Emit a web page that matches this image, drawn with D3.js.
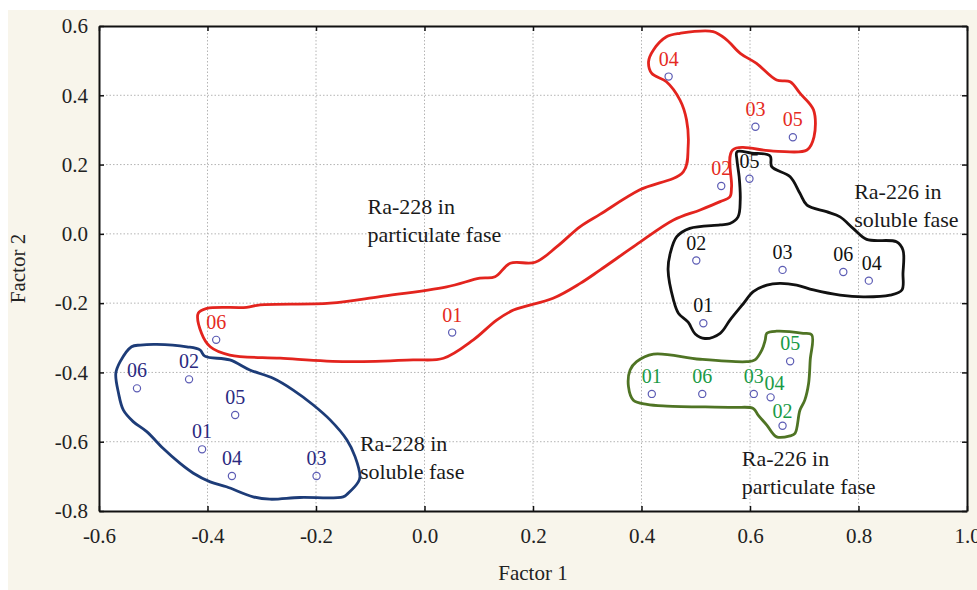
<!DOCTYPE html>
<html>
<head>
<meta charset="utf-8">
<script src="https://cdn.jsdelivr.net/npm/d3@7"></script>
<style>
  body { margin: 0; background: #fff; }
  text { font-family: "Liberation Serif", "Times New Roman", serif; }
</style>
</head>
<body>
<div id="chart"></div>
<script>
// ---------------------------------------------------- DATA ---------------------------------------------------- //
const xTicks = [-0.6, -0.4, -0.2, 0.0, 0.2, 0.4, 0.6, 0.8, 1.0];
const yTicks = [0.6, 0.4, 0.2, 0.0, -0.2, -0.4, -0.6, -0.8];

const sampleLabels = ["01", "02", "03", "04", "05", "06"];

// Ra-228 in soluble fase (blue)
const ra228SolF1 = [-0.410, -0.434, -0.199, -0.355, -0.349, -0.530];
const ra228SolF2 = [-0.622, -0.420, -0.699, -0.699, -0.523, -0.446];
// Ra-228 in particulate fase (red)
const ra228PartF1 = [0.051, 0.547, 0.610, 0.450, 0.679, -0.384];
const ra228PartF2 = [-0.285, 0.138, 0.309, 0.454, 0.279, -0.306];
// Ra-226 in soluble fase (black)
const ra226SolF1 = [0.514, 0.501, 0.660, 0.819, 0.599, 0.772];
const ra226SolF2 = [-0.258, -0.077, -0.104, -0.135, 0.159, -0.110];
// Ra-226 in particulate fase (green)
const ra226PartF1 = [0.419, 0.660, 0.607, 0.638, 0.674, 0.512];
const ra226PartF2 = [-0.462, -0.554, -0.462, -0.472, -0.368, -0.462];

// hand drawn outlines round each group, in factor units
const ra228SolOutline = [[-0.540,-0.326],[-0.524,-0.321],[-0.494,-0.319],[-0.438,-0.326],[-0.414,-0.335],[-0.405,-0.353],
  [-0.359,-0.364],[-0.322,-0.393],[-0.279,-0.417],[-0.242,-0.451],[-0.205,-0.494],[-0.174,-0.537],[-0.143,-0.595],
  [-0.128,-0.643],[-0.119,-0.701],[-0.122,-0.716],[-0.141,-0.749],[-0.150,-0.759],[-0.230,-0.761],[-0.285,-0.766],
  [-0.316,-0.759],[-0.365,-0.730],[-0.395,-0.716],[-0.426,-0.691],[-0.451,-0.662],[-0.482,-0.619],[-0.512,-0.571],
  [-0.537,-0.542],[-0.555,-0.509],[-0.564,-0.460],[-0.569,-0.403],[-0.561,-0.369]];
const ra228PartOutline = [[-0.417,-0.229],[-0.401,-0.215],[-0.328,-0.212],[-0.303,-0.205],[-0.174,-0.200],[-0.082,-0.181],
  [0.041,-0.153],[0.102,-0.128],[0.130,-0.124],[0.158,-0.085],[0.204,-0.082],[0.244,-0.037],[0.287,0.021],[0.324,0.057],
  [0.397,0.127],[0.477,0.179],[0.486,0.252],[0.483,0.329],[0.471,0.386],[0.446,0.439],[0.419,0.463],[0.413,0.497],
  [0.422,0.531],[0.446,0.569],[0.471,0.579],[0.532,0.584],[0.557,0.560],[0.582,0.521],[0.612,0.492],[0.649,0.444],
  [0.674,0.439],[0.692,0.406],[0.717,0.358],[0.718,0.280],[0.705,0.242],[0.643,0.239],[0.568,0.242],[0.566,0.136],
  [0.563,0.107],[0.545,0.093],[0.508,0.069],[0.459,0.040],[0.390,-0.032],[0.324,-0.104],[0.287,-0.143],[0.237,-0.186],
  [0.164,-0.220],[0.133,-0.249],[0.090,-0.306],[0.035,-0.359],[-0.021,-0.364],[-0.143,-0.369],[-0.266,-0.359],
  [-0.359,-0.350],[-0.395,-0.326],[-0.411,-0.287]];
const ra226SolOutline = [[0.576,0.237],[0.603,0.233],[0.637,0.225],[0.640,0.194],[0.674,0.165],[0.692,0.117],[0.705,0.083],
  [0.741,0.064],[0.766,0.049],[0.790,0.016],[0.815,-0.016],[0.870,-0.023],[0.882,-0.047],[0.882,-0.114],[0.880,-0.162],
  [0.858,-0.177],[0.809,-0.182],[0.766,-0.177],[0.717,-0.162],[0.686,-0.148],[0.655,-0.143],[0.631,-0.148],[0.606,-0.167],
  [0.588,-0.201],[0.563,-0.249],[0.545,-0.287],[0.517,-0.302],[0.499,-0.289],[0.486,-0.255],[0.468,-0.229],[0.459,-0.191],
  [0.449,-0.104],[0.453,-0.056],[0.465,-0.008],[0.489,0.016],[0.545,0.026],[0.563,0.030],[0.578,0.049],[0.582,0.098],
  [0.580,0.165],[0.576,0.213]];
const ra226PartOutline = [[0.631,-0.287],[0.649,-0.281],[0.698,-0.287],[0.714,-0.292],[0.711,-0.364],[0.708,-0.432],
  [0.701,-0.480],[0.692,-0.509],[0.683,-0.576],[0.674,-0.583],[0.649,-0.586],[0.631,-0.552],[0.615,-0.523],[0.606,-0.504],
  [0.569,-0.501],[0.447,-0.497],[0.410,-0.492],[0.385,-0.480],[0.376,-0.441],[0.379,-0.393],[0.391,-0.369],[0.422,-0.347],
  [0.508,-0.362],[0.594,-0.369],[0.609,-0.364],[0.622,-0.335],[0.628,-0.307]];

const groups = [
  {name: "ra228Part", f1: ra228PartF1, f2: ra228PartF2, outline: ra228PartOutline, line: "#e3241e", label: "#e52a22"},
  {name: "ra228Sol", f1: ra228SolF1, f2: ra228SolF2, outline: ra228SolOutline, line: "#1d3c78", label: "#2b2a80"},
  {name: "ra226Sol", f1: ra226SolF1, f2: ra226SolF2, outline: ra226SolOutline, line: "#111111", label: "#111111"},
  {name: "ra226Part", f1: ra226PartF1, f2: ra226PartF2, outline: ra226PartOutline, line: "#4f7424", label: "#199a45"}
];

const notes = [
  {lines: ["Ra-228 in", "particulate fase"], f1: -0.105, f2: 0.057},
  {lines: ["Ra-226 in", "soluble fase"], f1: 0.792, f2: 0.100},
  {lines: ["Ra-228 in", "soluble fase"], f1: -0.119, f2: -0.626},
  {lines: ["Ra-226 in", "particulate fase"], f1: 0.585, f2: -0.669}
];

// ---------------------------------------------------- CHART ---------------------------------------------------- //
const W = 977, H = 590;
const serif = '"Liberation Serif", "Times New Roman", serif';
const margin = {top: 26, right: 10, bottom: 79, left: 99},
  width = W - margin.left - margin.right,
  height = H - margin.top - margin.bottom;

const root = d3.select("#chart").append("svg")
  .attr("width", W)
  .attr("height", H)
  .attr("font-family", serif);

root.append("rect").attr("x", 8).attr("y", 10).attr("width", W - 8).attr("height", H - 10).attr("fill", "#f8f5eb");

const svg = root.append("g").attr("transform", `translate(${margin.left},${margin.top})`);

const x = d3.scaleLinear().domain([-0.6, 1.0]).range([0, width]);
const y = d3.scaleLinear().domain([-0.8, 0.6]).range([height, 0]);

svg.append("rect").attr("width", width).attr("height", height).attr("fill", "#fff");

// grid
svg.append("g").selectAll("line").data(xTicks.slice(1, -1)).join("line")
  .attr("x1", d => x(d)).attr("x2", d => x(d)).attr("y1", 0).attr("y2", height)
  .attr("stroke", "#b4b4b4").attr("stroke-dasharray", "1.5,2").attr("stroke-width", 1);
svg.append("g").selectAll("line").data(yTicks.slice(1, -1)).join("line")
  .attr("y1", d => y(d)).attr("y2", d => y(d)).attr("x1", 0).attr("x2", width)
  .attr("stroke", "#b4b4b4").attr("stroke-dasharray", "1.5,2").attr("stroke-width", 1);

// axes, ticks pointing inward
const fmt = d => d.toFixed(1);   // plain hyphen, like the original
function styleAxis(g) {
  g.select(".domain").attr("stroke", "#111").attr("stroke-width", 2);
  g.selectAll(".tick line").attr("stroke", "#111").attr("stroke-width", 1.5);
  g.selectAll("text").attr("font-size", 21).attr("fill", "#222").attr("font-family", serif);
}
svg.append("g").attr("transform", `translate(0,${height})`)
  .call(d3.axisBottom(x).tickValues(xTicks).tickFormat(fmt).tickSizeInner(-5).tickSizeOuter(0).tickPadding(17))
  .call(styleAxis);
svg.append("g")
  .call(d3.axisLeft(y).tickValues(yTicks).tickFormat(fmt).tickSizeInner(-5).tickSizeOuter(0).tickPadding(11))
  .call(styleAxis);
svg.append("g")
  .call(d3.axisTop(x).tickValues(xTicks).tickFormat("").tickSizeInner(-5).tickSizeOuter(0))
  .call(styleAxis);
svg.append("g").attr("transform", `translate(${width},0)`)
  .call(d3.axisRight(y).tickValues(yTicks).tickFormat("").tickSizeInner(-5).tickSizeOuter(0))
  .call(styleAxis);

// axis titles
svg.append("text").attr("x", x(0.2)).attr("y", height + 69).attr("text-anchor", "middle")
  .attr("font-size", 21).attr("fill", "#222").text("Factor 1");
svg.append("text").attr("transform", `translate(${25 - margin.left},${y(-0.1)}) rotate(-90)`)
  .attr("text-anchor", "middle").attr("font-size", 21).attr("fill", "#222").text("Factor 2");

// outlines
const outline = d3.line()
  .x(d => x(d[0])).y(d => y(d[1]))
  .curve(d3.curveCatmullRomClosed.alpha(0.5));

svg.append("g").selectAll("path").data(groups).join("path")
  .attr("d", d => outline(d.outline))
  .attr("fill", "none")
  .attr("stroke", d => d.line)
  .attr("stroke-width", 2.8)
  .attr("stroke-linejoin", "round");

// points + labels
const labelNudge = {"ra226Part04": [4, 4], "ra226Part02": [0, 3], "ra226Sol04": [3, 0]};

groups.forEach(function (grp) {
  const pts = sampleLabels.map((lab, i) => ({lab: lab, f1: grp.f1[i], f2: grp.f2[i]}));
  const g = svg.append("g");
  g.selectAll("circle").data(pts).join("circle")
    .attr("cx", d => x(d.f1)).attr("cy", d => y(d.f2)).attr("r", 3.6)
    .attr("fill", "none").attr("stroke", "#5c5cb4").attr("stroke-width", 1.2);
  g.selectAll("text").data(pts).join("text")
    .attr("x", d => x(d.f1) + (labelNudge[grp.name + d.lab] || [0, 0])[0])
    .attr("y", d => y(d.f2) - 11 + (labelNudge[grp.name + d.lab] || [0, 0])[1])
    .attr("text-anchor", "middle")
    .attr("font-size", 20)
    .attr("fill", grp.label)
    .text(d => d.lab);
});

// group notes
notes.forEach(function (n) {
  const t = svg.append("text").attr("font-size", 22).attr("fill", "#1a1a1a");
  n.lines.forEach(function (line, i) {
    t.append("tspan").attr("x", x(n.f1)).attr("y", y(n.f2) + i * 28).text(line);
  });
});
</script>
</body>
</html>
